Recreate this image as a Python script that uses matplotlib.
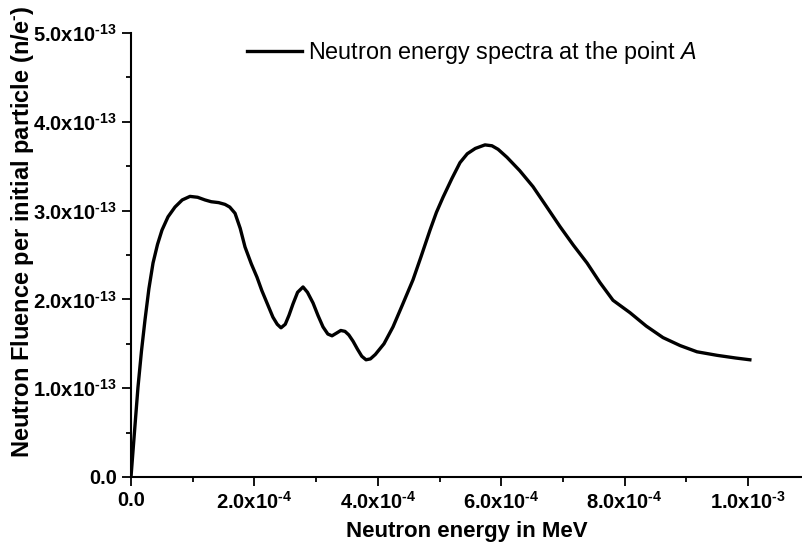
import numpy as np
import matplotlib
matplotlib.use("Agg")
import matplotlib.pyplot as plt
from matplotlib.ticker import MultipleLocator

plt.rcParams['font.family'] = ['Liberation Sans', 'DejaVu Sans']
plt.rcParams['mathtext.fontset'] = 'custom'
plt.rcParams['mathtext.rm'] = 'Liberation Sans:bold'
plt.rcParams['mathtext.bf'] = 'Liberation Sans:bold'
plt.rcParams['mathtext.it'] = 'Liberation Sans:italic'

# energy in units of 1e-4 MeV, fluence in units of 1e-13 n/e-
energy_e4 = [0.0, 0.05, 0.113, 0.17, 0.227, 0.29, 0.357, 0.43, 0.502, 0.60,
             0.713, 0.83, 0.956, 1.08, 1.199, 1.30, 1.42, 1.523, 1.60, 1.686,
             1.77, 1.848, 1.95, 2.042, 2.12, 2.204, 2.30, 2.37, 2.431, 2.50,
             2.56, 2.626, 2.70, 2.788, 2.86, 2.95, 3.03, 3.112, 3.19, 3.258,
             3.33, 3.40, 3.468, 3.53, 3.598, 3.67, 3.74, 3.809, 3.88, 3.96,
             4.10, 4.246, 4.40, 4.57, 4.70, 4.846, 4.95, 5.057, 5.20, 5.332,
             5.45, 5.58, 5.737, 5.85, 5.95, 6.094, 6.30, 6.515, 6.73, 6.953,
             7.17, 7.391, 7.60, 7.812, 8.088, 8.35, 8.622, 8.90, 9.173, 9.50,
             9.80, 10.03]
fluence_e13 = [0.0, 0.45, 1.01, 1.42, 1.77, 2.12, 2.41, 2.62, 2.78, 2.93,
               3.04, 3.12, 3.16, 3.15, 3.12, 3.10, 3.09, 3.07, 3.04, 2.97,
               2.80, 2.59, 2.40, 2.25, 2.10, 1.96, 1.80, 1.72, 1.68, 1.72,
               1.82, 1.95, 2.08, 2.14, 2.08, 1.96, 1.82, 1.69, 1.61, 1.59,
               1.62, 1.65, 1.64, 1.60, 1.53, 1.44, 1.36, 1.32, 1.33, 1.38,
               1.50, 1.69, 1.94, 2.22, 2.48, 2.78, 2.98, 3.15, 3.36, 3.54,
               3.64, 3.70, 3.74, 3.73, 3.69, 3.60, 3.45, 3.27, 3.05, 2.82,
               2.61, 2.41, 2.19, 1.99, 1.85, 1.70, 1.57, 1.48, 1.41, 1.37,
               1.34, 1.32]

xticks = [0.0, 2e-4, 4e-4, 6e-4, 8e-4, 1e-3]
xtick_labels = ['0.0', '2.0x10$^{\\text{-4}}$', '4.0x10$^{\\text{-4}}$',
                '6.0x10$^{\\text{-4}}$', '8.0x10$^{\\text{-4}}$',
                '1.0x10$^{\\text{-3}}$']
yticks = [0.0, 1e-13, 2e-13, 3e-13, 4e-13, 5e-13]
ytick_labels = ['0.0', '1.0x10$^{\\text{-13}}$', '2.0x10$^{\\text{-13}}$',
                '3.0x10$^{\\text{-13}}$', '4.0x10$^{\\text{-13}}$',
                '5.0x10$^{\\text{-13}}$']

energy = np.array(energy_e4) * 1e-4
fluence = np.array(fluence_e13) * 1e-13

fig = plt.figure(figsize=(8.03, 5.53), dpi=100)
ax = fig.add_axes([131/803, 1 - 477/553, 671/803, 444/553])

line, = ax.plot(energy, fluence, color='black', lw=2.4,
                label='Neutron energy spectra at the point $\\mathit{A}$')

ax.set_xlim(0, 1.0875e-3)
ax.set_ylim(0, 5e-13)
ax.spines['top'].set_visible(False)
ax.spines['right'].set_visible(False)
ax.spines['left'].set_linewidth(1.5)
ax.spines['bottom'].set_linewidth(1.5)

ax.set_xticks(xticks, xtick_labels)
ax.set_yticks(yticks, ytick_labels)
ax.xaxis.set_minor_locator(MultipleLocator(1e-4))
ax.yaxis.set_minor_locator(MultipleLocator(0.5e-13))
ax.tick_params(which='major', direction='out', length=6.5, width=1.3,
               labelsize=14.5, pad=3.5)
ax.tick_params(which='minor', direction='out', length=3.6, width=1.3)
for lab in ax.get_xticklabels() + ax.get_yticklabels():
    lab.set_fontweight('bold')

ax.set_xlabel('Neutron energy in MeV', fontsize=16, fontweight='bold')
ax.set_ylabel('Neutron Fluence per initial particle (n/e$^{\\text{-}}$)',
              fontsize=17, fontweight='bold')
ax.xaxis.set_label_coords(0.5, -0.098)
ax.yaxis.set_label_coords(-0.142, 0.552)

ax.legend(handles=[line], loc='center left',
          bbox_to_anchor=(247/803, 1 - 53/553), bbox_transform=fig.transFigure,
          frameon=False, fontsize=16.8, handlelength=2.35, handletextpad=0.26,
          borderpad=0, borderaxespad=0)

fig.savefig('out.png', dpi=100)
